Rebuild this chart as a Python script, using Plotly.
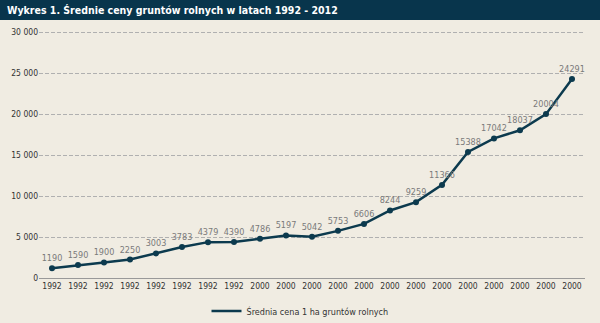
import plotly.graph_objects as go

tick_labels = ["1992"] * 8 + ["2000"] * 13
values = [1190, 1590, 1900, 2250, 3003, 3783, 4379, 4390, 4786, 5197, 5042,
          5753, 6606, 8244, 9259, 11366, 15388, 17042, 18037, 20004, 24291]
series_name = "Średnia cena 1 ha gruntów rolnych"
title = "Wykres 1. Średnie ceny gruntów rolnych w latach 1992 - 2012"
y_ticks = [0, 5000, 10000, 15000, 20000, 25000, 30000]
y_tick_text = ["0", "5 000", "10 000", "15 000", "20 000", "25 000", "30 000"]

x = list(range(len(values)))
FONT = "DejaVu Sans Condensed, Liberation Sans Narrow, sans-serif"
LINE = "#0c3a4e"
BG = "#f0ece2"

fig = go.Figure()
fig.add_trace(go.Scatter(
    x=x, y=values, mode="lines+markers+text", name=series_name,
    showlegend=False,
    line=dict(color=LINE, width=2.5),
    marker=dict(color=LINE, size=6),
    text=[str(v) for v in values], textposition="top center",
    textfont=dict(family=FONT, size=9, color="#7a7a7a"),
))
# legend entry (line only)
fig.add_trace(go.Scatter(
    x=[None], y=[None], mode="lines", name=series_name,
    line=dict(color=LINE, width=2.5), showlegend=True,
))

fig.update_layout(
    width=600, height=323,
    margin=dict(l=39, r=15, t=31, b=45, autoexpand=False),
    paper_bgcolor=BG, plot_bgcolor=BG,
    font=dict(family=FONT, size=9, color="#333333"),
    showlegend=True,
    legend=dict(orientation="h", x=0.5, xanchor="center", xref="container",
                y=12 / 323, yanchor="middle", yref="container",
                font=dict(family=FONT, size=9, color="#333333"),
                bgcolor="rgba(0,0,0,0)", itemwidth=30),
    xaxis=dict(range=[-0.5, len(values) - 0.5], tickvals=x, ticktext=tick_labels,
               showgrid=False, zeroline=False, showline=True, linecolor="#999999",
               linewidth=1, ticks="", automargin=False,
               tickfont=dict(family=FONT, size=8.5, color="#333333")),
    yaxis=dict(range=[0, 30150], tickvals=y_ticks, ticktext=y_tick_text,
               showgrid=True, gridcolor="#b0b0b0", griddash="4px,2px", gridwidth=1,
               zeroline=False, showline=False, ticks="", automargin=False,
               tickfont=dict(family=FONT, size=8.5, color="#333333")),
)

# title bar
fig.add_shape(type="rect", xref="paper", yref="paper",
              x0=-39 / 546, x1=1 + 15 / 546, y0=1 + 11 / 247, y1=1 + 31 / 247,
              fillcolor="#08354c", line=dict(width=0), layer="above")
fig.add_annotation(text="<b>" + title + "</b>", xref="paper", yref="paper",
                   x=-34 / 546, y=1 + 21 / 247, xanchor="left", yanchor="middle",
                   showarrow=False,
                   font=dict(family=FONT, size=10.5, color="white"))

fig.write_html("out.html")
